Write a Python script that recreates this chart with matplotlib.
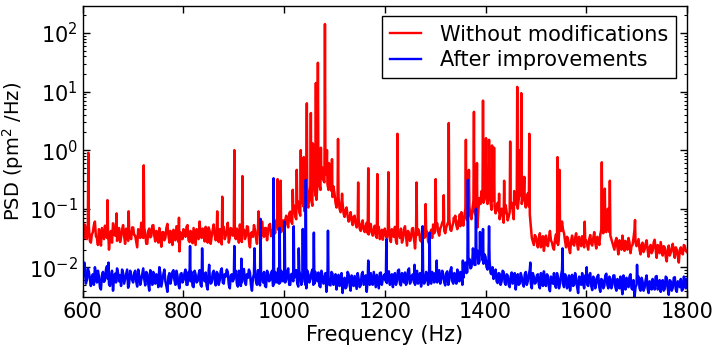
import numpy as np
import matplotlib
matplotlib.use("Agg")
import matplotlib.pyplot as plt

# Frequency grids of the noise floor (Hz): 600, 604, ... and the in-between 602, 606, ...
freq_start, freq_stop, freq_step = 600, 1800, 4

# Noise floor, log10(PSD), 100 Hz per row (600, 604, ..., 1800)
red_floor_log = [
    -1.38, -1.27, -1.52, -1.31, -1.58, -1.40, -1.22, -1.50, -1.35, -1.63, -1.43, -1.29, -1.50, -1.70, -1.38, -1.25, -1.46, -1.55, -1.33, -1.49, -1.28, -1.60, -1.42, -1.36, -1.52,
    -1.32, -1.46, -1.66, -1.38, -1.24, -1.50, -1.42, -1.60, -1.34, -1.47, -1.28, -1.56, -1.44, -1.33, -1.65, -1.40, -1.50, -1.26, -1.58, -1.45, -1.36, -1.54, -1.31, -1.73, -1.44,
    -1.35, -1.48, -1.28, -1.57, -1.42, -1.33, -1.62, -1.40, -1.22, -1.50, -1.44, -1.31, -1.58, -1.38, -1.47, -1.27, -1.54, -1.42, -1.35, -1.61, -1.31, -1.46, -1.24, -1.50, -1.38,
    -1.30, -1.52, -1.42, -1.27, -1.57, -1.36, -1.47, -1.31, -1.66, -1.40, -1.28, -1.50, -1.35, -1.44, -1.22, -1.48, -1.33, -1.39, -1.26, -1.45, -1.30, -1.20, -1.36, -1.16, -1.28,
    -1.30, -1.12, -1.32, -1.05, -1.26, -0.95, -1.18, -0.88, -1.12, -0.78, -1.04, -0.70, -0.98, -0.62, -0.95, -0.52, -0.85, -0.42, -0.68, -0.30, -0.55, -0.36, -0.68, -0.50, -0.80,
    -0.74, -0.98, -0.80, -1.06, -0.90, -1.14, -0.98, -1.22, -1.06, -1.28, -1.12, -1.32, -1.18, -1.38, -1.20, -1.40, -1.24, -1.44, -1.26, -1.46, -1.29, -1.50, -1.31, -1.45, -1.53,
    -1.34, -1.50, -1.28, -1.57, -1.40, -1.31, -1.60, -1.44, -1.34, -1.52, -1.30, -1.63, -1.42, -1.50, -1.33, -1.68, -1.45, -1.38, -1.56, -1.31, -1.48, -1.40, -1.60, -1.36, -1.27,
    -1.38, -1.25, -1.46, -1.30, -1.20, -1.42, -1.27, -1.17, -1.38, -1.24, -1.12, -1.35, -1.17, -1.06, -1.29, -1.00, -1.20, -0.96, -1.18, -0.86, -1.10, -1.32, -0.82, -0.70, -0.90,
    -0.62, -0.92, -0.68, -1.02, -0.78, -1.08, -0.90, -1.18, -1.00, -1.24, -0.94, -1.20, -1.06, -0.90, -1.18, -0.80, -1.00, -0.62, -0.92, -0.68, -0.98, -0.74, -1.10, -1.50, -1.62,
    -1.48, -1.66, -1.42, -1.60, -1.72, -1.46, -1.64, -1.38, -1.58, -1.70, -1.44, -1.62, -1.32, -1.22, -1.42, -1.66, -1.52, -1.76, -1.46, -1.63, -1.42, -1.70, -1.56, -1.47, -1.66,
    -1.54, -1.70, -1.45, -1.63, -1.40, -1.68, -1.53, -1.44, -1.33, -1.28, -1.40, -1.24, -1.46, -1.58, -1.70, -1.50, -1.78, -1.58, -1.46, -1.72, -1.60, -1.50, -1.76, -1.62, -1.36,
    -1.64, -1.52, -1.78, -1.58, -1.70, -1.54, -1.82, -1.62, -1.72, -1.53, -1.84, -1.66, -1.57, -1.80, -1.66, -1.90, -1.63, -1.75, -1.60, -1.84, -1.70, -1.92, -1.66, -1.78, -1.64,
    -1.74,
]
# in-between samples (602, 606, ..., 1798)
red_mid_log = [
    -1.50, -1.36, -1.30, -1.55, -1.44, -1.28, -1.47, -1.62, -1.40, -1.33, -1.52, -1.45, -1.34, -1.48, -1.58, -1.39, -1.30, -1.43, -1.57, -1.36, -1.46, -1.34, -1.55, -1.48, -1.32,
    -1.45, -1.56, -1.35, -1.50, -1.42, -1.32, -1.60, -1.38, -1.49, -1.29, -1.46, -1.38, -1.58, -1.48, -1.40, -1.54, -1.33, -1.45, -1.38, -1.62, -1.48, -1.30, -1.57, -1.40, -1.52,
    -1.44, -1.31, -1.54, -1.38, -1.59, -1.47, -1.35, -1.52, -1.46, -1.34, -1.56, -1.40, -1.32, -1.60, -1.36, -1.45, -1.38, -1.57, -1.48, -1.30, -1.52, -1.37, -1.58, -1.33, -1.46,
    -1.46, -1.34, -1.58, -1.45, -1.35, -1.52, -1.30, -1.55, -1.42, -1.48, -1.36, -1.60, -1.29, -1.52, -1.40, -1.33, -1.54, -1.28, -1.47, -1.35, -1.42, -1.31, -1.25, -1.40, -1.20,
    -1.20, -1.26, -1.08, -1.22, -1.00, -1.14, -0.98, -1.06, -0.90, -0.96, -0.82, -0.92, -0.75, -0.86, -0.66, -0.78, -0.60, -0.58, -0.48, -0.52, -0.42, -0.58, -0.45, -0.70, -0.62,
    -0.90, -0.84, -1.00, -0.92, -1.08, -1.02, -1.12, -1.16, -1.20, -1.14, -1.26, -1.22, -1.34, -1.26, -1.36, -1.30, -1.42, -1.35, -1.40, -1.36, -1.46, -1.38, -1.52, -1.36, -1.41,
    -1.46, -1.36, -1.52, -1.35, -1.48, -1.55, -1.38, -1.50, -1.58, -1.36, -1.47, -1.38, -1.55, -1.34, -1.52, -1.40, -1.35, -1.54, -1.42, -1.50, -1.36, -1.56, -1.44, -1.50, -1.42,
    -1.30, -1.40, -1.34, -1.24, -1.38, -1.32, -1.22, -1.36, -1.30, -1.18, -1.28, -1.22, -1.30, -1.20, -1.12, -1.16, -1.06, -1.12, -1.02, -1.05, -0.95, -1.00, -0.92, -0.86, -0.76,
    -0.84, -0.74, -0.90, -0.86, -0.96, -0.98, -1.04, -1.06, -1.12, -1.08, -1.06, -1.14, -0.98, -1.04, -0.92, -0.94, -0.84, -0.78, -0.80, -0.86, -0.84, -0.96, -1.30, -1.56, -1.45,
    -1.58, -1.50, -1.66, -1.47, -1.56, -1.62, -1.49, -1.54, -1.66, -1.52, -1.58, -1.45, -1.38, -1.36, -1.55, -1.48, -1.68, -1.55, -1.60, -1.50, -1.60, -1.48, -1.64, -1.58, -1.52,
    -1.62, -1.52, -1.60, -1.50, -1.58, -1.48, -1.62, -1.36, -1.42, -1.38, -1.32, -1.40, -1.52, -1.64, -1.56, -1.66, -1.54, -1.70, -1.60, -1.55, -1.70, -1.58, -1.64, -1.50, -1.58,
    -1.58, -1.70, -1.62, -1.74, -1.60, -1.70, -1.66, -1.76, -1.58, -1.70, -1.62, -1.76, -1.68, -1.64, -1.82, -1.70, -1.80, -1.68, -1.74, -1.66, -1.80, -1.70, -1.76, -1.62, -1.72,
]
blue_floor_log = [
    -1.92, -2.02, -2.22, -2.08, -2.32, -2.12, -2.00, -2.26, -2.16, -2.38, -2.08, -2.22, -1.98, -2.29, -2.14, -2.40, -2.11, -2.02, -2.24, -2.32, -2.10, -2.20, -2.04, -2.28, -2.13,
    -2.26, -2.06, -2.33, -2.14, -2.22, -2.02, -2.31, -2.11, -2.40, -2.16, -2.08, -2.28, -2.18, -2.00, -2.33, -2.12, -2.24, -2.42, -2.10, -2.20, -2.05, -2.30, -2.14, -2.36, -2.10,
    -2.22, -2.04, -2.30, -2.16, -2.08, -2.34, -2.12, -2.24, -2.05, -2.33, -2.18, -2.09, -2.38, -2.14, -2.26, -2.06, -2.31, -2.11, -2.22, -2.02, -2.28, -2.16, -2.08, -2.36, -2.12,
    -2.20, -2.06, -2.33, -2.14, -2.26, -2.03, -2.30, -2.18, -2.09, -2.40, -2.12, -2.24, -2.05, -2.31, -2.16, -2.08, -2.34, -2.11, -2.22, -2.06, -2.28, -2.14, -2.02, -2.26, -2.12,
    -2.08, -2.22, -2.02, -2.30, -2.11, -2.18, -2.05, -2.33, -2.14, -2.24, -2.08, -2.36, -2.12, -2.20, -2.04, -2.28, -2.16, -2.09, -2.34, -2.14, -2.26, -2.42, -2.18, -2.31, -2.11,
    -2.24, -2.38, -2.13, -2.29, -2.44, -2.18, -2.33, -2.12, -2.40, -2.22, -2.15, -2.37, -2.20, -2.31, -2.08, -2.27, -2.42, -2.16, -2.10, -2.30, -2.21, -2.13, -2.36, -2.09, -2.20,
    -2.12, -2.27, -2.07, -2.20, -2.34, -2.10, -2.24, -2.04, -2.31, -2.16, -2.09, -2.26, -2.02, -2.22, -2.12, -2.30, -2.06, -2.18, -2.33, -2.09, -2.24, -2.14, -2.04, -2.28, -2.16,
    -2.10, -2.26, -2.05, -2.20, -2.12, -2.31, -2.07, -2.22, -2.00, -2.28, -2.14, -2.04, -2.24, -2.09, -2.18, -1.92, -2.08, -1.86, -2.00, -1.78, -1.96, -1.72, -1.90, -1.66, -1.94,
    -1.82, -2.04, -1.88, -2.12, -2.20, -2.04, -2.27, -2.11, -2.24, -2.08, -2.30, -2.14, -2.34, -2.09, -2.25, -2.38, -2.12, -2.28, -2.17, -2.33, -2.08, -2.24, -2.04, -2.36, -2.16,
    -2.26, -2.12, -2.36, -2.20, -2.07, -2.32, -2.15, -2.41, -2.21, -2.10, -2.35, -2.18, -2.28, -2.05, -2.34, -2.16, -2.27, -2.40, -2.13, -2.30, -2.19, -2.44, -2.21, -2.10, -2.36,
    -2.16, -2.32, -2.10, -2.39, -2.19, -2.28, -2.13, -2.42, -2.22, -2.32, -2.11, -2.36, -2.20, -2.30, -2.14, -2.40, -2.23, -2.16, -2.46, -2.24, -2.18, -2.34, -2.12, -2.38, -2.52,
    -2.30, -2.16, -2.40, -2.24, -2.35, -2.14, -2.44, -2.26, -2.20, -2.38, -2.15, -2.34, -2.42, -2.22, -2.37, -2.18, -2.47, -2.24, -2.35, -2.17, -2.42, -2.26, -2.20, -2.38, -2.22,
    -2.20,
]
blue_mid_log = [
    -2.12, -2.28, -2.02, -2.20, -2.16, -2.30, -2.10, -2.06, -2.34, -2.14, -2.25, -2.04, -2.20, -2.32, -2.06, -2.18, -2.26, -2.10, -2.14, -2.04, -2.28, -2.12, -2.35, -2.06, -2.22,
    -2.10, -2.24, -2.04, -2.30, -2.12, -2.20, -2.08, -2.28, -2.05, -2.30, -2.20, -2.12, -2.34, -2.10, -2.22, -2.04, -2.32, -2.16, -2.28, -2.08, -2.22, -2.06, -2.30, -2.12, -2.26,
    -2.10, -2.30, -2.08, -2.24, -2.32, -2.06, -2.26, -2.12, -2.30, -2.08, -2.24, -2.32, -2.06, -2.28, -2.10, -2.22, -2.08, -2.30, -2.06, -2.26, -2.12, -2.04, -2.30, -2.14, -2.24,
    -2.10, -2.28, -2.06, -2.32, -2.10, -2.24, -2.12, -2.04, -2.30, -2.18, -2.06, -2.30, -2.20, -2.08, -2.26, -2.32, -2.06, -2.24, -2.10, -2.32, -2.08, -2.26, -2.28, -2.06, -2.24,
    -2.26, -2.08, -2.30, -2.12, -2.24, -2.08, -2.28, -2.06, -2.30, -2.10, -2.30, -2.06, -2.26, -2.10, -2.30, -2.08, -2.24, -2.32, -2.06, -2.28, -2.10, -2.20, -2.30, -2.08, -2.30,
    -2.12, -2.24, -2.32, -2.10, -2.26, -2.36, -2.08, -2.30, -2.14, -2.32, -2.26, -2.10, -2.34, -2.12, -2.30, -2.14, -2.20, -2.30, -2.28, -2.08, -2.34, -2.24, -2.10, -2.30, -2.14,
    -2.24, -2.08, -2.30, -2.12, -2.16, -2.30, -2.06, -2.28, -2.10, -2.26, -2.30, -2.06, -2.28, -2.14, -2.26, -2.08, -2.28, -2.10, -2.16, -2.28, -2.08, -2.30, -2.20, -2.08, -2.26,
    -2.24, -2.08, -2.28, -2.06, -2.26, -2.10, -2.30, -2.06, -2.24, -2.10, -2.28, -2.20, -2.08, -2.30, -2.02, -2.10, -1.92, -2.02, -1.86, -1.96, -1.82, -1.94, -1.76, -1.88, -1.78,
    -2.00, -1.86, -2.10, -2.00, -2.14, -2.24, -2.10, -2.30, -2.06, -2.26, -2.12, -2.30, -2.16, -2.28, -2.10, -2.22, -2.30, -2.10, -2.28, -2.12, -2.30, -2.12, -2.28, -2.10, -2.28,
    -2.14, -2.30, -2.10, -2.32, -2.24, -2.12, -2.34, -2.16, -2.28, -2.30, -2.10, -2.36, -2.14, -2.28, -2.12, -2.36, -2.14, -2.24, -2.32, -2.10, -2.34, -2.16, -2.30, -2.28, -2.14,
    -2.30, -2.14, -2.32, -2.16, -2.36, -2.16, -2.34, -2.20, -2.36, -2.14, -2.30, -2.16, -2.36, -2.14, -2.34, -2.20, -2.36, -2.32, -2.14, -2.38, -2.30, -2.16, -2.36, -2.22, -2.34,
    -2.20, -2.36, -2.18, -2.40, -2.22, -2.36, -2.24, -2.38, -2.30, -2.16, -2.38, -2.22, -2.30, -2.40, -2.16, -2.36, -2.22, -2.40, -2.18, -2.38, -2.24, -2.34, -2.40, -2.16, -2.36,
]

# Spectral lines (Hz, pm^2/Hz)
red_peak_freq = [611, 649, 667, 691, 721, 791, 867, 877, 901, 917, 949, 987, 993,
                 1017, 1025, 1033, 1039, 1045, 1053, 1057, 1063, 1067, 1073, 1081,
                 1085, 1089, 1095, 1107, 1115, 1147, 1167, 1185, 1207, 1225, 1263,
                 1281, 1301, 1317, 1327, 1337, 1349, 1361, 1367, 1377, 1383, 1395,
                 1401, 1407, 1413, 1417, 1427, 1437, 1449, 1457, 1463, 1467, 1471,
                 1477, 1487, 1543, 1547, 1597, 1631, 1637, 1643, 1647, 1697]
red_peak_psd = [0.9, 0.14, 0.083, 0.09, 0.55, 0.07, 0.09, 0.16, 1.0, 0.36, 0.09, 0.32, 0.30,
                0.21, 0.46, 1.0, 0.76, 6.3, 4.3, 1.3, 14, 31, 1.1, 142,
                1.0, 0.6, 0.7, 1.55, 0.18, 0.28, 0.49, 0.39, 0.42, 1.9, 0.28,
                0.12, 0.32, 0.17, 2.9, 0.07, 0.08, 1.5, 0.46, 4.5, 0.6, 7.0,
                1.6, 1.5, 1.2, 1.1, 0.18, 0.3, 1.4, 0.2, 12, 1.0, 9.4,
                0.35, 1.9, 0.76, 0.46, 0.06, 0.62, 0.22, 0.1, 0.3, 0.064]
blue_peak_freq = [603, 651, 813, 837, 851, 901, 915, 941, 953, 979, 991, 1001, 1019,
                  1029, 1037, 1043, 1059, 1087, 1167, 1203, 1259, 1275, 1289, 1303,
                  1355, 1365, 1375, 1381, 1389, 1395, 1407, 1489, 1553, 1601, 1701]
blue_peak_psd = [0.012, 0.012, 0.023, 0.021, 0.011, 0.023, 0.014, 0.021, 0.067, 0.33, 0.047, 0.06, 0.05,
                 0.021, 0.045, 0.31, 0.039, 0.042, 0.013, 0.03, 0.011, 0.05, 0.039, 0.013,
                 0.013, 0.31, 0.021, 0.1, 0.04, 0.045, 0.05, 0.012, 0.021, 0.01, 0.011]

labels = ["Without modifications", "After improvements"]


def spectrum(floor_log, mid_log, peak_freq, peak_psd):
    """Merge the noise floor samples and the spectral lines into one sorted trace."""
    f = np.concatenate([np.arange(freq_start, freq_stop + 1, freq_step),
                        np.arange(freq_start + freq_step // 2, freq_stop, freq_step),
                        peak_freq])
    p = np.concatenate([10.0 ** np.array(floor_log), 10.0 ** np.array(mid_log), peak_psd])
    order = np.argsort(f, kind="stable")
    return f[order], p[order]


plt.rcParams["font.family"] = "DejaVu Sans"
plt.rcParams["font.size"] = 15
plt.rcParams["mathtext.default"] = "regular"

fig = plt.figure(figsize=(7.14, 3.47), dpi=100)
ax = fig.add_axes([0.116, 0.144, 0.846, 0.839])

f_red, p_red = spectrum(red_floor_log, red_mid_log, red_peak_freq, red_peak_psd)
f_blue, p_blue = spectrum(blue_floor_log, blue_mid_log, blue_peak_freq, blue_peak_psd)
ax.plot(f_red, p_red, color="red", linewidth=1.8, label=labels[0])
ax.plot(f_blue, p_blue, color="blue", linewidth=1.8, label=labels[1])

ax.set_yscale("log")
ax.set_xlim(600, 1800)
ax.set_ylim(3.1e-3, 290)
ax.set_xlabel("Frequency (Hz)", labelpad=2)
ax.set_ylabel("PSD (pm$^2$ /Hz)", fontsize=14)
ax.yaxis.set_label_coords(-0.094, 0.5)

ax.tick_params(which="both", direction="in", top=True, right=True)
ax.tick_params(which="major", length=5, width=1)
ax.tick_params(which="minor", length=2.5, width=0.8)
for spine in ax.spines.values():
    spine.set_linewidth(1.0)

leg = ax.legend(loc="upper right", fancybox=False, framealpha=1, edgecolor="black",
                fontsize=15, handlelength=1.5, handletextpad=0.9, labelspacing=0.25,
                borderaxespad=0.5)
leg.get_frame().set_linewidth(1.0)
for line in leg.get_lines():
    line.set_linewidth(1.7)

fig.savefig("out.png", dpi=100)
